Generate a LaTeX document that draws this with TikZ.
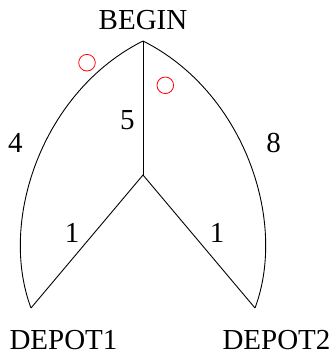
\documentclass[tikz,border=0pt]{standalone}
\usepackage{fontspec}
\setmainfont{Liberation Serif}
\begin{document}
\begin{tikzpicture}[x=1pt,y=1pt,
  lbl/.style={inner sep=0pt,font=\fontsize{29}{34}\selectfont},
  edge/.style={draw=black,line width=0.9pt},
  port/.style={draw=red,line width=0.8pt,circle,minimum size=16.6pt,inner sep=0pt}]
\useasboundingbox (0,0) rectangle (336,357);
\coordinate (top) at (143,316);
\coordinate (mid) at (143,182);
\coordinate (d1) at (31,49);
\coordinate (d2) at (255,49);
\node[lbl] (begin) at (143,337) {BEGIN};
\node[lbl] (dep1) at (63.5,17) {DEPOT1};
\node[lbl] (dep2) at (276.5,17) {DEPOT2};
\draw[edge] (top) .. controls +(-100,-50) and +(-33,88) .. (d1);
\draw[edge] (top) .. controls +(100,-50) and +(33,88) .. (d2);
\draw[edge] (top) -- (mid);
\draw[edge] (d1) -- (mid) -- (d2);
\node[lbl] (w4) at (15.5,214.5) {4};
\node[lbl] (w5) at (127.5,237) {5};
\node[lbl] (w8) at (273.5,214.5) {8};
\node[lbl] (w1a) at (72,124.5) {1};
\node[lbl] (w1b) at (217,124.5) {1};
\node[port] (p1) at (87,294.3) {};
\node[port] (p2) at (165.3,271.7) {};
\end{tikzpicture}
\end{document}
